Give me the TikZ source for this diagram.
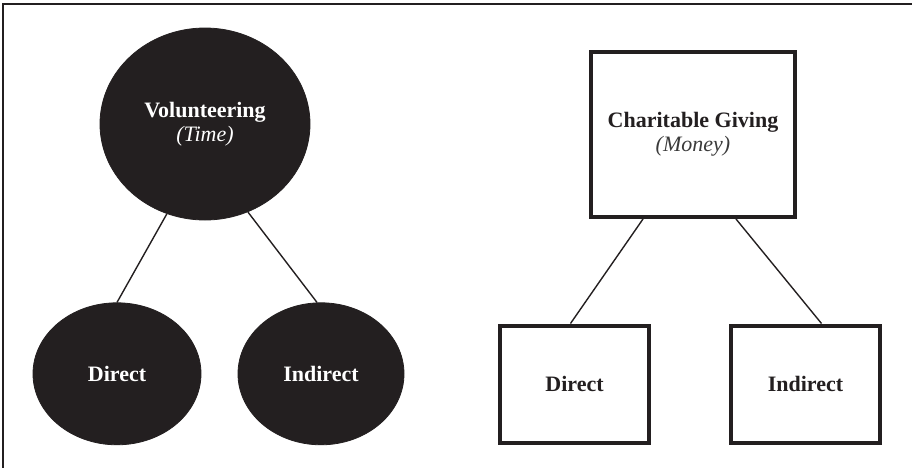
\documentclass[tikz,border=0pt]{standalone}
\usepackage{fontspec}
\setmainfont{Liberation Serif}
\usetikzlibrary{
  positioning,
  shapes.geometric
}
\definecolor{vnblack}{HTML}{231F20}
\definecolor{vngrey}{HTML}{3A3A3A}

\begin{document}
\begin{tikzpicture}[
  x=0.5pt, y=-0.5pt,
  every node/.style={font=\fontsize{11}{12}\selectfont\bfseries, align=center},
  timenode/.style={draw=vnblack, ellipse, fill=vnblack, text=white, inner sep=0pt},
  moneynode/.style={draw=vnblack, rectangle, line width=2pt, inner sep=0pt, text=vnblack},
  link/.style={draw=vnblack, line width=0.7pt}
]
  \useasboundingbox (0,0) rectangle (912,468);

  % Frame
  \draw[vnblack, line width=0.8pt] (912,4) -- (3,4) -- (3,468);

  % Volunteering ellipse
  \node[timenode, minimum width=105pt, minimum height=96pt]
    (vol) at (205,124) {Volunteering\\{\mdseries\itshape (Time)}};

  % Volunteering children
  \node[timenode, minimum width=84pt, minimum height=71pt,
    below=41pt of vol, xshift=-44pt] (vdir) {Direct};
  \node[timenode, minimum width=83pt, minimum height=71pt,
    below=41pt of vol, xshift=58pt] (vind) {Indirect};

  % Charitable Giving box
  \node[moneynode, minimum width=102pt, minimum height=82.5pt]
    (cg) at (693,134.5) {Charitable Giving\\{\mdseries\itshape\color{vngrey}(Money)}};

  % Charitable Giving children
  \node[moneynode, minimum width=74.5pt, minimum height=58.5pt]
    (cdir) at (574.5,384) {Direct};
  \node[moneynode, minimum width=74.5pt, minimum height=58.5pt,
    right=39pt of cdir] (cind) {Indirect};

  % Lines
  \draw[link] (vol.247) -- (vdir.north);
  \draw[link] (vol.296) -- ([xshift=-2pt]vind.north);
  \draw[link] ([xshift=-25pt]cg.south) -- ([xshift=-2pt]cdir.north);
  \draw[link] ([xshift=21.5pt]cg.south) -- ([xshift=8pt]cind.north);
\end{tikzpicture}
\end{document}
